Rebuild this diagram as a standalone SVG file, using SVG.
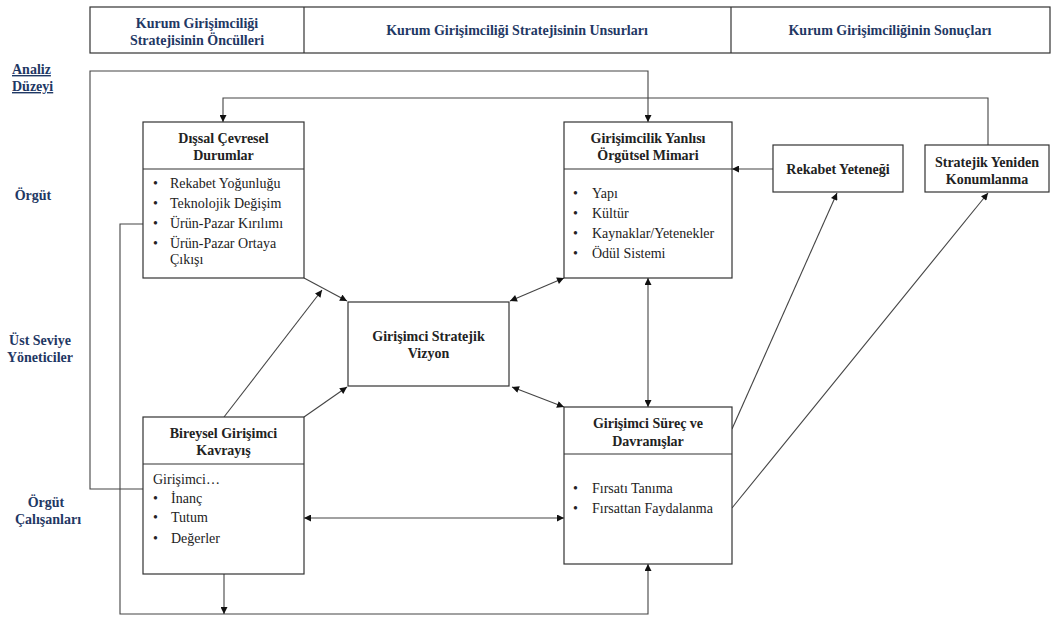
<svg xmlns="http://www.w3.org/2000/svg" width="1052" height="618" viewBox="0 0 1052 618" font-family="'Liberation Serif', 'DejaVu Serif', serif">
<defs>
<marker id="ah" viewBox="0 0 10 10" refX="10" refY="5" markerWidth="8" markerHeight="7" markerUnits="userSpaceOnUse" orient="auto-start-reverse">
<path d="M0,0 L10,5 L0,10 z" fill="#111"/>
</marker>
<style>
.bx{fill:#fff;stroke:#333;stroke-width:1.2}
.dv{stroke:#333;stroke-width:1.2}
.ln{fill:none;stroke:#444;stroke-width:1.1}
.t{font-size:14px;fill:#222}
.b{font-size:14px;font-weight:bold;fill:#222;text-anchor:middle}
.h{font-size:14px;font-weight:bold;fill:#1f3864;text-anchor:middle}
</style>
</defs>
<rect width="1052" height="618" fill="#fff"/>
<g id="header">
<rect class="bx" x="90" y="7" width="960" height="46"/>
<line class="dv" x1="304" y1="7" x2="304" y2="53"/>
<line class="dv" x1="731" y1="7" x2="731" y2="53"/>
<text class="h" x="197" y="28">Kurum Girişimciliği</text>
<text class="h" x="197" y="45">Stratejisinin Öncülleri</text>
<text class="h" x="517" y="35">Kurum Girişimciliği Stratejisinin Unsurları</text>
<text class="h" x="890" y="35">Kurum Girişimciliğinin Sonuçları</text>
</g>
<g id="levels">
<text class="h" x="12" y="74" style="text-anchor:start;text-decoration:underline">Analiz</text>
<text class="h" x="12" y="91" style="text-anchor:start;text-decoration:underline">Düzeyi</text>
<text class="h" x="33" y="200">Örgüt</text>
<text class="h" x="40" y="345">Üst Seviye</text>
<text class="h" x="40" y="362">Yöneticiler</text>
<text class="h" x="46" y="507">Örgüt</text>
<text class="h" x="48" y="524">Çalışanları</text>
</g>
<g id="connectors">
<path class="ln" d="M143,489 H90 V71 H648 V122" marker-end="url(#ah)"/>
<path class="ln" d="M988,145 V98 H223 V122" marker-end="url(#ah)"/>
<path class="ln" d="M143,224 H120 V614 H648 V564" marker-end="url(#ah)"/>
<path class="ln" d="M224,574 V614" marker-end="url(#ah)"/>
<path class="ln" d="M773,169 H732" marker-end="url(#ah)"/>
<path class="ln" d="M732,429 L837,193" marker-end="url(#ah)"/>
<path class="ln" d="M732,508 L988,193" marker-end="url(#ah)"/>
<path class="ln" d="M304,278 L347,301" marker-end="url(#ah)"/>
<path class="ln" d="M224,417 L322,290" marker-end="url(#ah)"/>
<path class="ln" d="M304,417 L347,387" marker-end="url(#ah)"/>
<path class="ln" d="M510,301 L564,278" marker-start="url(#ah)" marker-end="url(#ah)"/>
<path class="ln" d="M512,387 L564,407" marker-start="url(#ah)" marker-end="url(#ah)"/>
<path class="ln" d="M648,278 V407" marker-start="url(#ah)" marker-end="url(#ah)"/>
<path class="ln" d="M304,518 H564" marker-start="url(#ah)" marker-end="url(#ah)"/>
</g>
<g id="dissal">
<rect class="bx" x="143" y="122" width="161" height="156"/>
<line class="dv" x1="143" y1="169" x2="304" y2="169"/>
<text class="b" x="223.5" y="143">Dışsal Çevresel</text>
<text class="b" x="223.5" y="160">Durumlar</text>
<text class="t" x="153" y="188">•</text><text class="t" x="170" y="188">Rekabet Yoğunluğu</text>
<text class="t" x="153" y="208">•</text><text class="t" x="170" y="208">Teknolojik Değişim</text>
<text class="t" x="153" y="228">•</text><text class="t" x="170" y="228">Ürün-Pazar Kırılımı</text>
<text class="t" x="153" y="248">•</text><text class="t" x="170" y="248">Ürün-Pazar Ortaya</text>
<text class="t" x="170" y="264">Çıkışı</text>
</g>
<g id="mimari">
<rect class="bx" x="564" y="122" width="168" height="156"/>
<line class="dv" x1="564" y1="169" x2="732" y2="169"/>
<text class="b" x="648" y="143">Girişimcilik Yanlısı</text>
<text class="b" x="648" y="160">Örgütsel Mimari</text>
<text class="t" x="573" y="198">•</text><text class="t" x="592" y="198">Yapı</text>
<text class="t" x="573" y="218">•</text><text class="t" x="592" y="218">Kültür</text>
<text class="t" x="573" y="238">•</text><text class="t" x="592" y="238">Kaynaklar/Yetenekler</text>
<text class="t" x="573" y="258">•</text><text class="t" x="592" y="258">Ödül Sistemi</text>
</g>
<g id="rekabet">
<rect class="bx" x="773" y="145" width="130" height="47"/>
<text class="b" x="838" y="174">Rekabet Yeteneği</text>
</g>
<g id="konumlanma">
<rect class="bx" x="925" y="145" width="124" height="47"/>
<text class="b" x="987" y="167">Stratejik Yeniden</text>
<text class="b" x="987" y="184">Konumlanma</text>
</g>
<g id="vizyon">
<rect class="bx" x="348" y="302" width="161" height="84"/>
<text class="b" x="428.5" y="341">Girişimci Stratejik</text>
<text class="b" x="428.5" y="358">Vizyon</text>
</g>
<g id="bireysel">
<rect class="bx" x="143" y="417" width="161" height="157"/>
<line class="dv" x1="143" y1="464" x2="304" y2="464"/>
<text class="b" x="223.5" y="438">Bireysel Girişimci</text>
<text class="b" x="223.5" y="455">Kavrayış</text>
<text class="t" x="153" y="484">Girişimci…</text>
<text class="t" x="153" y="503">•</text><text class="t" x="171" y="503">İnanç</text>
<text class="t" x="153" y="522">•</text><text class="t" x="171" y="522">Tutum</text>
<text class="t" x="153" y="543">•</text><text class="t" x="171" y="543">Değerler</text>
</g>
<g id="surec">
<rect class="bx" x="564" y="407" width="168" height="157"/>
<line class="dv" x1="564" y1="454" x2="732" y2="454"/>
<text class="b" x="648" y="428">Girişimci Süreç ve</text>
<text class="b" x="648" y="446">Davranışlar</text>
<text class="t" x="573" y="493">•</text><text class="t" x="592" y="493">Fırsatı Tanıma</text>
<text class="t" x="573" y="513">•</text><text class="t" x="592" y="513">Fırsattan Faydalanma</text>
</g>
</svg>
